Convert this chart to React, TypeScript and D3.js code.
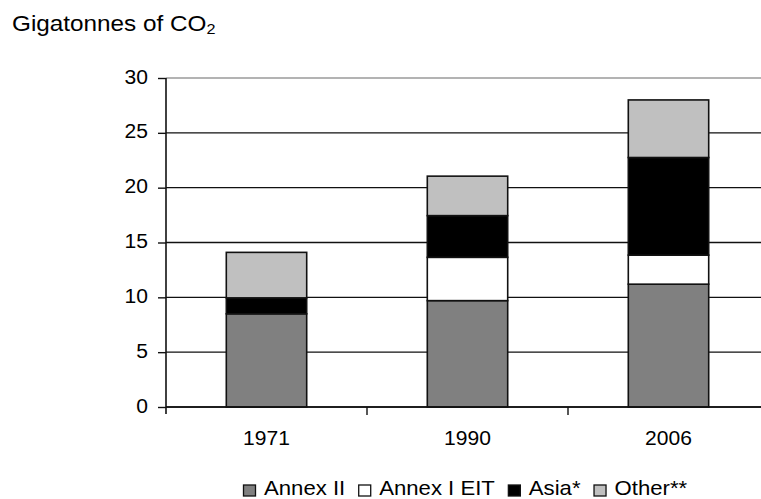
import React, { useEffect, useRef } from 'react';
import * as d3 from 'd3';

const years = ['1971', '1990', '2006'];
const seriesNames = ['Annex II', 'Annex I EIT', 'Asia*', 'Other**'];
const annexII = [8.5, 9.7, 11.2];
const annexIEIT = [0, 3.95, 2.65];
const asia = [1.45, 3.8, 8.9];
const other = [4.15, 3.6, 5.25];
const seriesColors = ['#808080', '#ffffff', '#000000', '#c0c0c0'];
const yTicks = [0, 5, 10, 15, 20, 25, 30];

const W = 761;
const H = 499;
const FONT = '"Liberation Sans", Arial, Helvetica, sans-serif';
const SX = 1.08; // the reference text is a little stretched horizontally

const App: React.FC = () => {
  const svgRef = useRef<SVGSVGElement>(null);

  useEffect(() => {
    const svg = d3.select(svgRef.current!);
    svg.selectAll('*').remove();

    const margin = { top: 78, left: 166, bottom: 407 };

    const x = d3
      .scaleBand<string>()
      .domain(years)
      .range([margin.left, margin.left + 603])
      .paddingInner(0.6)
      .paddingOuter(0.3);

    const y = d3.scaleLinear().domain([0, 30]).range([margin.bottom, margin.top]);

    // table for the stack
    const rows = years.map((yr, i) => ({
      year: yr,
      'Annex II': annexII[i],
      'Annex I EIT': annexIEIT[i],
      'Asia*': asia[i],
      'Other**': other[i],
    }));
    const stacked = d3.stack<any>().keys(seriesNames)(rows);

    // title
    svg
      .append('g')
      .attr('transform', `translate(12,31) scale(${SX},1)`)
      .append('text')
      .attr('font-family', FONT)
      .attr('font-size', 22.5)
      .attr('fill', '#000')
      .call((t) => {
        t.append('tspan').text('Gigatonnes of CO');
        t.append('tspan').attr('font-size', 15).attr('dy', 3).text('2');
      });

    // horizontal grid lines
    svg
      .append('g')
      .selectAll('line')
      .data(yTicks)
      .enter()
      .append('line')
      .attr('x1', margin.left)
      .attr('x2', W)
      .attr('y1', (d) => y(d))
      .attr('y2', (d) => y(d))
      .attr('stroke', (d) => (d === 30 ? '#9a9a9a' : '#111'))
      .attr('stroke-width', 1.4);

    // y axis
    const yAxis = d3
      .axisLeft(y)
      .tickValues(yTicks)
      .tickSize(8)
      .tickPadding(0)
      .tickFormat((d) => String(d));
    const gy = svg.append('g').attr('transform', `translate(${margin.left},0)`).call(yAxis);
    gy.select('.domain').remove();
    gy.selectAll('line').attr('stroke', '#111').attr('stroke-width', 1.4);
    gy.selectAll('text').remove();
    gy.selectAll<SVGGElement, number>('.tick')
      .append('g')
      .attr('transform', `translate(-18,5) scale(${SX},1)`)
      .append('text')
      .attr('text-anchor', 'end')
      .attr('font-family', FONT)
      .attr('font-size', 19.5)
      .attr('fill', '#000')
      .text((d) => String(d));

    svg
      .append('line')
      .attr('x1', margin.left)
      .attr('x2', margin.left)
      .attr('y1', margin.top)
      .attr('y2', margin.bottom + 7)
      .attr('stroke', '#111')
      .attr('stroke-width', 1.6);

    // bars
    svg
      .append('g')
      .selectAll('g')
      .data(stacked)
      .enter()
      .append('g')
      .attr('fill', (_, i) => seriesColors[i])
      .selectAll('rect')
      .data((s) => s.filter((d) => d[1] - d[0] > 0))
      .enter()
      .append('rect')
      .attr('x', (d) => x(d.data.year) as number)
      .attr('width', x.bandwidth())
      .attr('y', (d) => y(d[1]))
      .attr('height', (d) => y(d[0]) - y(d[1]))
      .attr('stroke', '#111')
      .attr('stroke-width', 1.6);

    // x axis baseline and category ticks
    svg
      .append('line')
      .attr('x1', margin.left)
      .attr('x2', W)
      .attr('y1', margin.bottom)
      .attr('y2', margin.bottom)
      .attr('stroke', '#111')
      .attr('stroke-width', 1.4);

    const step = x.step();
    const bounds = years.slice(1).map((yr) => (x(yr) as number) - (step * x.paddingInner()) / 2);
    svg
      .append('g')
      .selectAll('line')
      .data(bounds)
      .enter()
      .append('line')
      .attr('x1', (d) => d)
      .attr('x2', (d) => d)
      .attr('y1', margin.bottom)
      .attr('y2', margin.bottom + 8)
      .attr('stroke', '#111')
      .attr('stroke-width', 1.4);

    svg
      .append('g')
      .selectAll('g')
      .data(years)
      .enter()
      .append('g')
      .attr('transform', (d) => `translate(${(x(d) as number) + x.bandwidth() / 2},445) scale(${SX},1)`)
      .append('text')
      .attr('text-anchor', 'middle')
      .attr('font-family', FONT)
      .attr('font-size', 19.5)
      .attr('fill', '#000')
      .text((d) => d);

    // legend
    const legend = svg.append('g');
    let lx = 243;
    seriesNames.forEach((name, i) => {
      legend
        .append('rect')
        .attr('x', lx + 0.5)
        .attr('y', 485)
        .attr('width', 12)
        .attr('height', 11)
        .attr('fill', seriesColors[i])
        .attr('stroke', '#111')
        .attr('stroke-width', 1.3);
      const t = legend
        .append('g')
        .attr('transform', `translate(${lx + 21},495) scale(${SX},1)`)
        .append('text')
        .attr('font-family', FONT)
        .attr('font-size', 20.5)
        .attr('fill', '#000')
        .text(name);
      const len = (t.node() as SVGTextElement).getComputedTextLength() * SX;
      lx += 21 + len + 13;
    });
  }, []);

  return (
    <svg
      ref={svgRef}
      width={W}
      height={H}
      style={{ position: 'absolute', left: 0, top: 0, background: '#fff' }}
    />
  );
};

export default App;
